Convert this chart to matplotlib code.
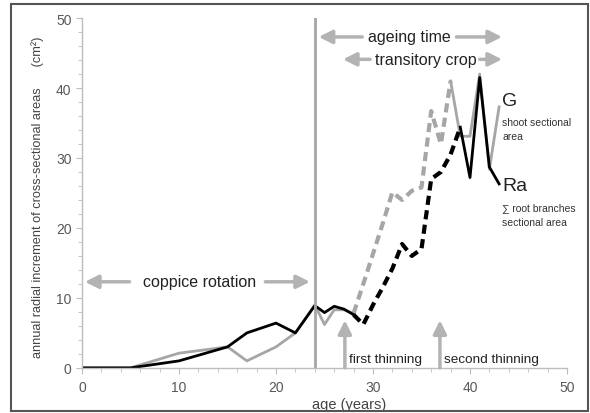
import matplotlib
matplotlib.use("Agg")
import matplotlib.pyplot as plt
from matplotlib.patches import Rectangle
from matplotlib.ticker import MultipleLocator

plt.rcParams['font.family'] = ['Liberation Sans', 'DejaVu Sans']

# shoot sectional area (G)
g_x_solid1 = [0, 5, 10, 15, 17, 20, 22, 24, 25, 26, 27, 28]
g_y_solid1 = [0, 0, 2.1, 3, 1, 3, 5, 9, 6.2, 8.3, 8.3, 7.8]
g_x_dash = [28, 29, 30, 31, 32, 33, 34, 35, 36, 37, 38]
g_y_dash = [7.8, 12, 16.3, 20.6, 25.1, 24, 25.3, 25.8, 36.7, 32, 41]
g_x_solid2 = [38, 39, 40, 41, 42, 43]
g_y_solid2 = [41, 33.1, 33.1, 42, 28.4, 37.3]

# sum of root branches sectional area (Ra)
r_x_solid1 = [0, 5, 10, 15, 17, 20, 22, 24, 25, 26, 27, 28]
r_y_solid1 = [0, 0, 1, 3, 5, 6.4, 5, 8.9, 7.9, 8.8, 8.4, 7.6]
r_x_dash = [28, 29, 30, 31, 32, 33, 34, 35, 36, 37, 38, 39]
r_y_dash = [7.6, 6.2, 9, 11.5, 14.2, 17.7, 16, 17, 27, 28, 30.5, 34.4]
r_x_solid2 = [39, 40, 41, 42, 43]
r_y_solid2 = [34.4, 27.2, 41.5, 28.7, 26.3]

gray = '#a6a6a6'
arrow_gray = '#b3b3b3'

fig = plt.figure(figsize=(5.9, 4.14), dpi=100)
ax = fig.add_axes([0.139, 0.109, 0.822, 0.845])

ax.plot(g_x_solid1, g_y_solid1, color=gray, lw=2)
ax.plot(g_x_dash, g_y_dash, color=gray, lw=3, dashes=(2.2, 1.3))
ax.plot(g_x_solid2, g_y_solid2, color=gray, lw=2)
ax.plot(r_x_solid1, r_y_solid1, color='black', lw=2)
ax.plot(r_x_dash, r_y_dash, color='black', lw=3, dashes=(2.2, 1.3))
ax.plot(r_x_solid2, r_y_solid2, color='black', lw=2)

ax.axvline(24, color=gray, lw=2)

ax.set_xlim(0, 50)
ax.set_ylim(0, 50)
ax.xaxis.set_major_locator(MultipleLocator(10))
ax.xaxis.set_minor_locator(MultipleLocator(2))
ax.yaxis.set_major_locator(MultipleLocator(10))
ax.yaxis.set_minor_locator(MultipleLocator(2))
for s in ['top', 'right']:
    ax.spines[s].set_visible(False)
for s in ['left', 'bottom']:
    ax.spines[s].set_color('#bdbdbd')
    ax.spines[s].set_linewidth(1)
ax.tick_params(which='both', colors='#bdbdbd', labelcolor='#595959', labelsize=10, direction='out')
ax.tick_params(which='major', length=4)
ax.tick_params(which='minor', length=3)
ax.tick_params(axis='x', pad=5)

ax.set_xlabel('age (years)', fontsize=10.5, color='#444444')
ax.xaxis.set_label_coords(0.55, -0.083)
ax.set_ylabel('annual radial increment of cross-sectional areas      (cm²)', fontsize=9.2, color='#444444')
ax.yaxis.set_label_coords(-0.078, 0.49)

arrow = dict(arrowstyle='-|>,head_length=0.8,head_width=0.4', color=arrow_gray, lw=2.5, shrinkA=0, shrinkB=0)

# coppice rotation
ax.text(12.1, 12.3, 'coppice rotation', fontsize=11.5, ha='center', va='center', color='#222222')
ax.annotate('', xy=(0.3, 12.3), xytext=(4.9, 12.3), arrowprops=arrow)
ax.annotate('', xy=(23.5, 12.3), xytext=(18.9, 12.3), arrowprops=arrow)

# ageing time
ax.text(33.8, 47.3, 'ageing time', fontsize=11.5, ha='center', va='center', color='#222222')
ax.annotate('', xy=(24.4, 47.3), xytext=(28.9, 47.3), arrowprops=arrow)
ax.annotate('', xy=(43.3, 47.3), xytext=(38.6, 47.3), arrowprops=arrow)

# transitory crop
ax.text(35.4, 44.1, 'transitory crop', fontsize=11.5, ha='center', va='center', color='#222222')
ax.annotate('', xy=(26.9, 44.1), xytext=(29.7, 44.1), arrowprops=arrow)
ax.annotate('', xy=(43.3, 44.1), xytext=(41.0, 44.1), arrowprops=arrow)

# thinnings
ax.annotate('', xy=(27.1, 6.8), xytext=(27.1, 0), arrowprops=arrow)
ax.text(27.5, 1.3, 'first thinning', fontsize=9.7, ha='left', va='center', color='#222222')
ax.annotate('', xy=(36.9, 6.8), xytext=(36.9, 0), arrowprops=arrow)
ax.text(37.3, 1.3, 'second thinning', fontsize=9.7, ha='left', va='center', color='#222222')

# series labels
ax.text(43.3, 38.2, 'G', fontsize=14, ha='left', va='center', color='#222222')
ax.text(43.3, 35.8, 'shoot sectional\narea', fontsize=7.5, ha='left', va='top', color='#333333', linespacing=1.5)
ax.text(43.3, 26.0, 'Ra', fontsize=14, ha='left', va='center', color='#222222')
ax.text(43.3, 23.6, '∑ root branches\nsectional area', fontsize=7.5, ha='left', va='top', color='#333333', linespacing=1.5)

fig.patches.append(Rectangle((0.019, 0.005), 0.977, 0.982, transform=fig.transFigure,
                             fill=False, edgecolor='#555555', lw=1.5))

fig.savefig('out.png', dpi=100)
